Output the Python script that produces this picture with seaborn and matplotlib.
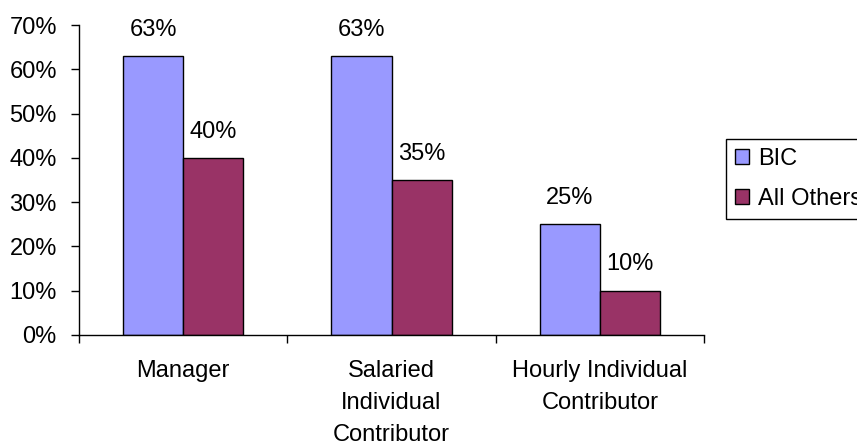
import matplotlib
matplotlib.use("Agg")
import matplotlib.pyplot as plt
from matplotlib.patches import Patch
from matplotlib.ticker import FixedLocator, PercentFormatter
import pandas as pd
import seaborn as sns

# Share of respondents by role, BIC vs. all other companies
categories = ["Manager", "Salaried\nIndividual\nContributor", "Hourly Individual\nContributor"]
groups = ["BIC", "All Others"]
bic_values = [63, 63, 25]
others_values = [40, 35, 10]
y_ticks = [0, 10, 20, 30, 40, 50, 60, 70]

colors = {"BIC": "#9999FF", "All Others": "#993366"}

df = pd.DataFrame({
    "role": categories * 2,
    "group": [groups[0]] * len(categories) + [groups[1]] * len(categories),
    "pct": bic_values + others_values,
})

sns.set_style("ticks")
plt.rcParams["font.family"] = ["Liberation Sans", "DejaVu Sans"]
plt.rcParams["text.color"] = "black"
plt.rcParams["xtick.color"] = "black"
plt.rcParams["ytick.color"] = "black"
plt.rcParams["xtick.labelcolor"] = "black"
plt.rcParams["ytick.labelcolor"] = "black"
FS = 17

fig = plt.figure(figsize=(8.57, 4.45), dpi=100)
ax = fig.add_axes([0.0922, 0.2472, 0.7293, 0.6966])

sns.barplot(
    data=df, x="role", y="pct", hue="group", order=categories, hue_order=groups,
    palette=colors, width=0.577, edgecolor="black", linewidth=1.0,
    saturation=1, errorbar=None, ax=ax, legend=False,
)

for container in ax.containers:
    ax.bar_label(container, fmt="{:.0f}%", padding=11, fontsize=FS, color="black")

ax.set_xlim(-0.5, 2.5)
ax.set_ylim(0, 70)
ax.set_yticks(y_ticks)
ax.yaxis.set_major_formatter(PercentFormatter(xmax=100, decimals=0))
ax.set_xlabel("")
ax.set_ylabel("")

ax.set_xticks(range(len(categories)))
ax.set_xticklabels(categories, fontsize=FS, linespacing=1.6, color="black")
ax.xaxis.set_minor_locator(FixedLocator([-0.5, 0.5, 1.5, 2.5]))
ax.tick_params(axis="x", which="major", length=0, pad=18)
ax.tick_params(axis="x", which="minor", length=6, width=1, direction="out", color="black")
ax.tick_params(axis="y", which="major", length=6, width=1, direction="out",
               color="black", labelcolor="black", pad=10, labelsize=FS)

for side in ("top", "right"):
    ax.spines[side].set_visible(False)
for side in ("left", "bottom"):
    ax.spines[side].set_color("black")
    ax.spines[side].set_linewidth(1.0)

handles = [Patch(facecolor=colors[g], edgecolor="black", linewidth=1.0) for g in groups]
leg = fig.legend(
    handles, groups, loc="upper left", bbox_to_anchor=(0.847, 0.6876),
    bbox_transform=fig.transFigure, borderaxespad=0, fontsize=FS,
    frameon=True, fancybox=False, framealpha=1, edgecolor="black",
    handlelength=0.62, handleheight=0.6, handletextpad=0.35,
    labelspacing=0.75, borderpad=0.38, labelcolor="black",
)
leg.get_frame().set_linewidth(1.0)

fig.savefig("out.png", dpi=100)
